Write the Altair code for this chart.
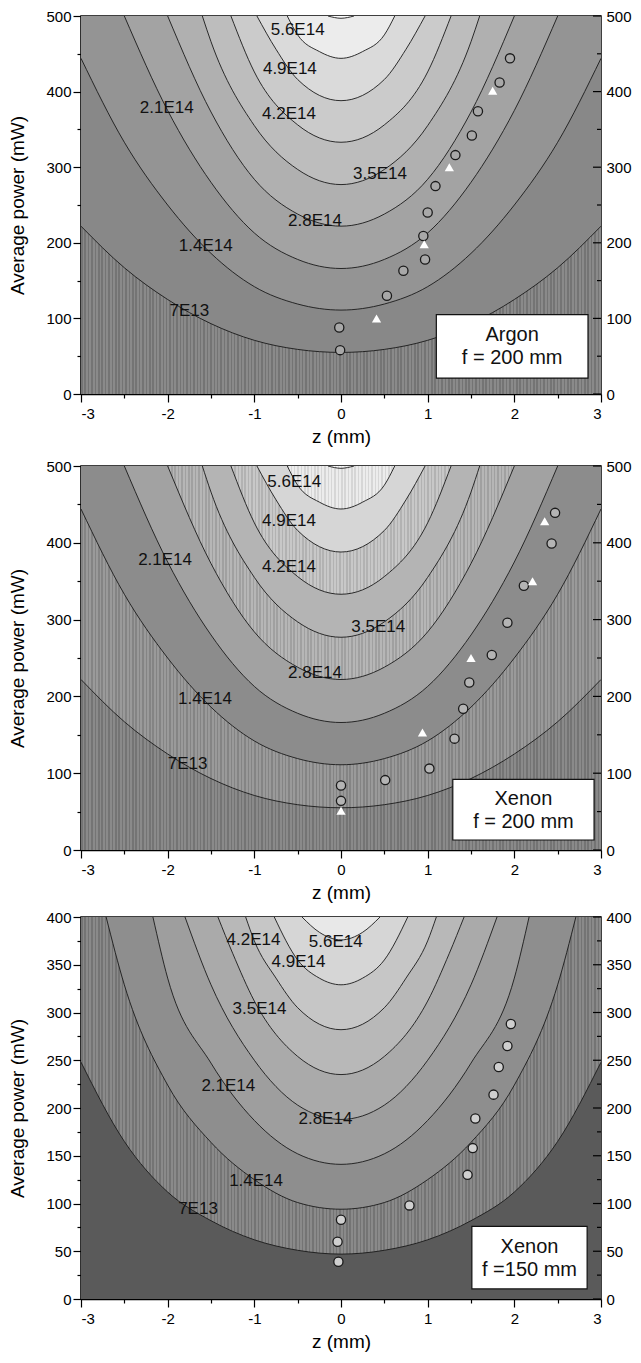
import altair as alt
import pandas as pd

W = 520
FONT = "Liberation Sans"

# ---------------- contour lines (z in mm, P in mW) ----------------
# f = 200 mm (Argon and Xenon panels), levels 7E13 ... 6.3E14
C200_Z = [
    [-3, -2.5, -2, -1.5, -1, -0.5, 0, 0.5, 1, 1.5, 2, 2.5, 3],
    [-3, -2.5, -2, -1.5, -1, -0.5, 0, 0.5, 1, 1.5, 2, 2.5, 3],
    [-2.5, -2, -1.5, -1, -0.5, 0, 0.5, 1, 1.5, 2, 2.5],
    [-2, -1.5, -1, -0.5, 0, 0.5, 1, 1.5, 2],
    [-1.6, -1.5, -1, -0.5, 0, 0.5, 1, 1.5, 1.6],
    [-1.27, -1, -0.5, 0, 0.5, 1, 1.27],
    [-0.97, -0.75, -0.5, 0, 0.5, 0.75, 0.97],
    [-0.62, -0.5, -0.25, 0, 0.25, 0.5, 0.62],
    [-0.15, 0, 0.15],
]
C200_P = [
    [222, 167, 125, 93, 71, 59, 55, 59, 71, 93, 125, 167, 222],
    [444, 333, 250, 186, 142, 119, 111, 119, 142, 186, 250, 333, 444],
    [500, 375, 280, 213, 178, 166, 178, 213, 280, 375, 500],
    [500, 373, 284, 238, 222, 238, 284, 373, 500],
    [500, 466, 355, 297, 277, 297, 355, 466, 500],
    [500, 426, 356, 333, 356, 426, 500],
    [500, 456, 416, 388, 416, 456, 500],
    [500, 475, 453, 444, 453, 475, 500],
    [500, 497, 500],
]
# f = 150 mm (lower Xenon panel), levels 7E13 ... 5.6E14
C150_Z = [
    [-3, -2.5, -2, -1.5, -1, -0.5, 0, 0.5, 1, 1.5, 2, 2.5, 3],
    [-2.71, -2.5, -2, -1.5, -1, -0.5, 0, 0.5, 1, 1.5, 2, 2.5, 2.71],
    [-2.17, -2, -1.5, -1, -0.5, 0, 0.5, 1, 1.5, 2, 2.17],
    [-1.8, -1.5, -1, -0.5, 0, 0.5, 1, 1.5, 1.8],
    [-1.42, -1.25, -1, -0.5, 0, 0.5, 1, 1.25, 1.42],
    [-1.1, -1, -0.75, -0.5, 0, 0.5, 0.75, 1, 1.1],
    [-0.77, -0.5, -0.25, 0, 0.25, 0.5, 0.77],
    [-0.45, -0.25, 0, 0.25, 0.45],
]
C150_P = [
    [248, 165, 112, 82, 62, 51, 47, 51, 62, 82, 112, 165, 248],
    [400, 329, 224, 164, 125, 101, 94, 101, 125, 164, 224, 329, 400],
    [400, 336, 247, 187, 152, 141, 152, 187, 247, 336, 400],
    [400, 329, 250, 203, 188, 203, 250, 329, 400],
    [400, 362, 312, 254, 235, 254, 312, 362, 400],
    [400, 375, 336, 305, 282, 305, 336, 375, 400],
    [400, 355, 336, 329, 336, 355, 400],
    [400, 384, 376, 384, 400],
]

# ---------------- contour labels ----------------
LAB_TEXT = ["7E13", "1.4E14", "2.1E14", "2.8E14", "3.5E14", "4.2E14", "4.9E14", "5.6E14"]
LAB1_Z = [-1.75, -1.56, -2.01, -0.30, 0.45, -0.60, -0.59, -0.50]
LAB1_P = [110, 196, 378, 229, 291, 370, 430, 482]
LAB2_Z = [-1.77, -1.57, -2.03, -0.30, 0.43, -0.60, -0.60, -0.54]
LAB2_P = [112, 196, 377, 230, 291, 369, 428, 479]
LAB3_Z = [-1.65, -0.98, -1.30, -0.18, -0.94, -1.01, -0.49, -0.06]
LAB3_P = [94, 124, 223, 188, 304, 376, 353, 374]

# ---------------- measured points ----------------
AR_CIRC_Z = [1.95, 1.83, 1.58, 1.51, 1.32, 1.09, 1.00, 0.95, 0.97, 0.72, 0.53, -0.02, -0.01]
AR_CIRC_P = [444, 412, 374, 342, 316, 275, 240, 209, 178, 163, 130, 88, 58]
AR_TRI_Z = [1.75, 1.25, 0.96, 0.41]
AR_TRI_P = [401, 300, 198, 100]

XE200_CIRC_Z = [2.47, 2.43, 2.11, 1.92, 1.74, 1.48, 1.41, 1.31, 1.02, 0.51, 0.0, 0.0]
XE200_CIRC_P = [439, 399, 344, 296, 254, 218, 184, 145, 106, 91, 84, 64]
XE200_TRI_Z = [2.35, 2.21, 1.50, 0.94, 0.0]
XE200_TRI_P = [428, 350, 250, 153, 51]

XE150_CIRC_Z = [1.96, 1.92, 1.82, 1.76, 1.55, 1.52, 1.46, 0.79, 0.0, -0.04, -0.03]
XE150_CIRC_P = [288, 265, 243, 214, 189, 158, 130, 98, 83, 60, 39]
XE150_TRI_Z = []
XE150_TRI_P = []

BOX_TEXT = ["Argon\nf = 200 mm", "Xenon\nf = 200 mm", "Xenon\nf =150 mm"]

# ---------------- styling ----------------
COLORS_A = ["#8a8a8a", "#888888", "#949494", "#a3a3a3", "#b0b0b0", "#bdbdbd", "#cbcbcb", "#dadada", "#ececec", "#fbfbfb"]
STRIPE_A = [1, 0, 0, 0, 0, 0, 0, 0, 0, 0]
COLORS_B = ["#8a8a8a", "#9a9a9a", "#8c8c8c", "#a2a2a2", "#b6b6b6", "#b4b4b4", "#c8c8c8", "#d6d6d6", "#ececec", "#f8f8f8"]
STRIPE_B = [1, 1, 0, 0, 1, 0, 1, 0, 1, 1]
COLORS_C = ["#5a5a5a", "#8a8a8a", "#8e8e8e", "#9e9e9e", "#aaaaaa", "#b8b8b8", "#c6c6c6", "#d6d6d6", "#e8e8e8"]
STRIPE_C = [0, 1, 0, 0, 0, 0, 0, 0, 0]

BOX_A = (1.10, 2.85, 21, 105)
BOX_B = (1.29, 2.92, 13, 92)
BOX_C = (1.51, 2.84, 10.5, 76)


def shade(hexcol, d):
    v = [max(0, min(255, int(hexcol[i:i + 2], 16) + d)) for i in (1, 3, 5)]
    return "#%02x%02x%02x" % tuple(v)


def fill(color, striped, span_px, period=3.4, frac=0.45):
    if not striped:
        return color
    dark = shade(color, -22)
    n = max(1, int(round(span_px / period)))
    stops = []
    for i in range(n):
        a = round(i / n, 5)
        b = round((i + frac) / n, 5)
        c = round((i + 1) / n, 5)
        stops += [
            alt.GradientStop(offset=a, color=dark),
            alt.GradientStop(offset=b, color=dark),
            alt.GradientStop(offset=b, color=color),
            alt.GradientStop(offset=c, color=color),
        ]
    return alt.LinearGradient(gradient="linear", stops=stops, x1=0, x2=1, y1=0, y2=0)


def panel(cz, cp, colors, stripes, lab_z, lab_p, circ_z, circ_p, tri_z, tri_p,
          box, box_text, circ_fill, ymax, ystep, H):
    xs = alt.Scale(domain=[-3, 3], nice=False, zero=False)
    ys = alt.Scale(domain=[0, ymax], nice=False, zero=False)
    ymaj = list(range(0, ymax + 1, ystep))
    ymin = [v + ystep / 2 for v in ymaj[:-1]]

    x_major = alt.Axis(values=[-3, -2, -1, 0, 1, 2, 3], labelExpr="'' + datum.value",
                       title="z (mm)", tickSize=8, tickWidth=1.2, domainWidth=1.5,
                       labelPadding=4, titlePadding=6, labelFontSize=15, titleFontSize=19,
                       grid=False, orient="bottom")
    x_minor = alt.Axis(values=[-2.5, -1.5, -0.5, 0.5, 1.5, 2.5], labels=False, tickSize=4,
                       tickWidth=1.2, domain=False, title=None, grid=False, orient="bottom")
    y_major = alt.Axis(values=ymaj, labelExpr="'' + datum.value", title="Average power (mW)",
                       tickSize=8, tickWidth=1.2, domainWidth=1.5, labelPadding=2,
                       titlePadding=18, labelFontSize=15, titleFontSize=19, grid=False, orient="left")
    y_minor = alt.Axis(values=ymin, labels=False, tickSize=4, tickWidth=1.2, domain=False,
                       title=None, grid=False, orient="left")
    y_right = alt.Axis(values=ymaj, labelExpr="'' + datum.value", ticks=False, domain=False,
                       labelPadding=5, labelFontSize=15, title=None, grid=False, orient="right")

    layers = []
    bg_df = pd.DataFrame({"a": [-3], "b": [3], "c": [0], "d": [ymax]})
    layers.append(
        alt.Chart(bg_df).mark_rect(color=fill(colors[0], stripes[0], W), strokeWidth=0).encode(
            x=alt.X("a:Q", scale=xs, axis=x_major), x2="b:Q",
            y=alt.Y("c:Q", scale=ys, axis=y_major), y2="d:Q")
    )
    for i, (zl, pl) in enumerate(zip(cz, cp)):
        df = pd.DataFrame({"z": zl, "P": pl})
        span = (max(zl) - min(zl)) / 6.0 * W
        layers.append(
            alt.Chart(df).mark_area(interpolate="monotone", clip=True, strokeWidth=0,
                                    color=fill(colors[i + 1], stripes[i + 1], span)).encode(
                x=alt.X("z:Q", scale=xs, axis=None),
                y=alt.Y("P:Q", scale=ys, axis=None),
                y2=alt.datum(ymax))
        )
    line_rows = []
    for i, (zl, pl) in enumerate(zip(cz, cp)):
        for z, p in zip(zl, pl):
            line_rows.append({"z": z, "P": p, "k": i})
    layers.append(
        alt.Chart(pd.DataFrame(line_rows)).mark_line(interpolate="monotone", clip=True,
                                                     color="#1a1a1a", strokeWidth=0.9).encode(
            x=alt.X("z:Q", scale=xs, axis=x_minor),
            y=alt.Y("P:Q", scale=ys, axis=y_minor),
            detail="k:N")
    )
    lab_df = pd.DataFrame({"z": lab_z, "P": lab_p, "t": LAB_TEXT[:len(lab_z)]})
    layers.append(
        alt.Chart(lab_df).mark_text(font=FONT, fontSize=17, color="#111111", baseline="middle",
                                    align="center").encode(
            x=alt.X("z:Q", scale=xs, axis=None), y=alt.Y("P:Q", scale=ys, axis=None), text="t:N")
    )
    circ_df = pd.DataFrame({"z": circ_z, "P": circ_p})
    layers.append(
        alt.Chart(circ_df).mark_circle(size=85, fill=circ_fill, stroke="#1a1a1a", strokeWidth=1.3,
                                       opacity=1).encode(
            x=alt.X("z:Q", scale=xs, axis=None), y=alt.Y("P:Q", scale=ys, axis=y_right))
    )
    if len(tri_z):
        tri_df = pd.DataFrame({"z": tri_z, "P": tri_p})
        layers.append(
            alt.Chart(tri_df).mark_point(shape="triangle-up", filled=True, color="white", size=85,
                                         opacity=1).encode(
                x=alt.X("z:Q", scale=xs, axis=None), y=alt.Y("P:Q", scale=ys, axis=None))
        )
    box_df = pd.DataFrame({"a": [box[0]], "b": [box[1]], "c": [box[2]], "d": [box[3]],
                           "zm": [(box[0] + box[1]) / 2], "pm": [(box[2] + box[3]) / 2],
                           "t": [box_text]})
    layers.append(
        alt.Chart(box_df).mark_rect(fill="white", stroke="#111111", strokeWidth=1.2).encode(
            x=alt.X("a:Q", scale=xs, axis=None), x2="b:Q",
            y=alt.Y("c:Q", scale=ys, axis=None), y2="d:Q")
    )
    layers.append(
        alt.Chart(box_df).mark_text(font=FONT, fontSize=20, lineBreak="\n", lineHeight=23, dy=-11,
                                    color="#111111", align="center", baseline="middle").encode(
            x=alt.X("zm:Q", scale=xs, axis=None), y=alt.Y("pm:Q", scale=ys, axis=None), text="t:N")
    )
    rt_major = pd.DataFrame({"v": ymaj})
    rt_minor = pd.DataFrame({"v": ymin})
    layers.append(
        alt.Chart(rt_major).mark_rule(color="black", strokeWidth=1.2).encode(
            y=alt.Y("v:Q", scale=ys, axis=None), x=alt.value(W - 8), x2=alt.value(W))
    )
    layers.append(
        alt.Chart(rt_minor).mark_rule(color="black", strokeWidth=1.2).encode(
            y=alt.Y("v:Q", scale=ys, axis=None), x=alt.value(W - 4), x2=alt.value(W))
    )
    return alt.layer(*layers).resolve_axis(x="independent", y="independent").properties(
        width=W, height=H)


p1 = panel(C200_Z, C200_P, COLORS_A, STRIPE_A, LAB1_Z, LAB1_P, AR_CIRC_Z, AR_CIRC_P,
           AR_TRI_Z, AR_TRI_P, BOX_A, BOX_TEXT[0], "#a8a8a8", 500, 100, 378)
p2 = panel(C200_Z, C200_P, COLORS_B, STRIPE_B, LAB2_Z, LAB2_P, XE200_CIRC_Z, XE200_CIRC_P,
           XE200_TRI_Z, XE200_TRI_P, BOX_B, BOX_TEXT[1], "#b4b4b4", 500, 100, 384)
p3 = panel(C150_Z, C150_P, COLORS_C, STRIPE_C, LAB3_Z, LAB3_P, XE150_CIRC_Z, XE150_CIRC_P,
           XE150_TRI_Z, XE150_TRI_P, BOX_C, BOX_TEXT[2], "#cfcfcf", 400, 50, 382)

top = alt.vconcat(p1, p2, spacing=11)
chart = alt.vconcat(top, p3, spacing=6).properties(
    padding={"left": 0, "top": 0, "right": 0, "bottom": 0}
).configure_view(stroke="black", strokeWidth=1.5).configure_axis(
    labelFont=FONT, titleFont=FONT, labelColor="black", titleColor="black",
    tickColor="black", domainColor="black", titleFontWeight="normal"
).configure_text(font=FONT)

chart.save("out.html", embed_options={"renderer": "svg", "actions": False})
